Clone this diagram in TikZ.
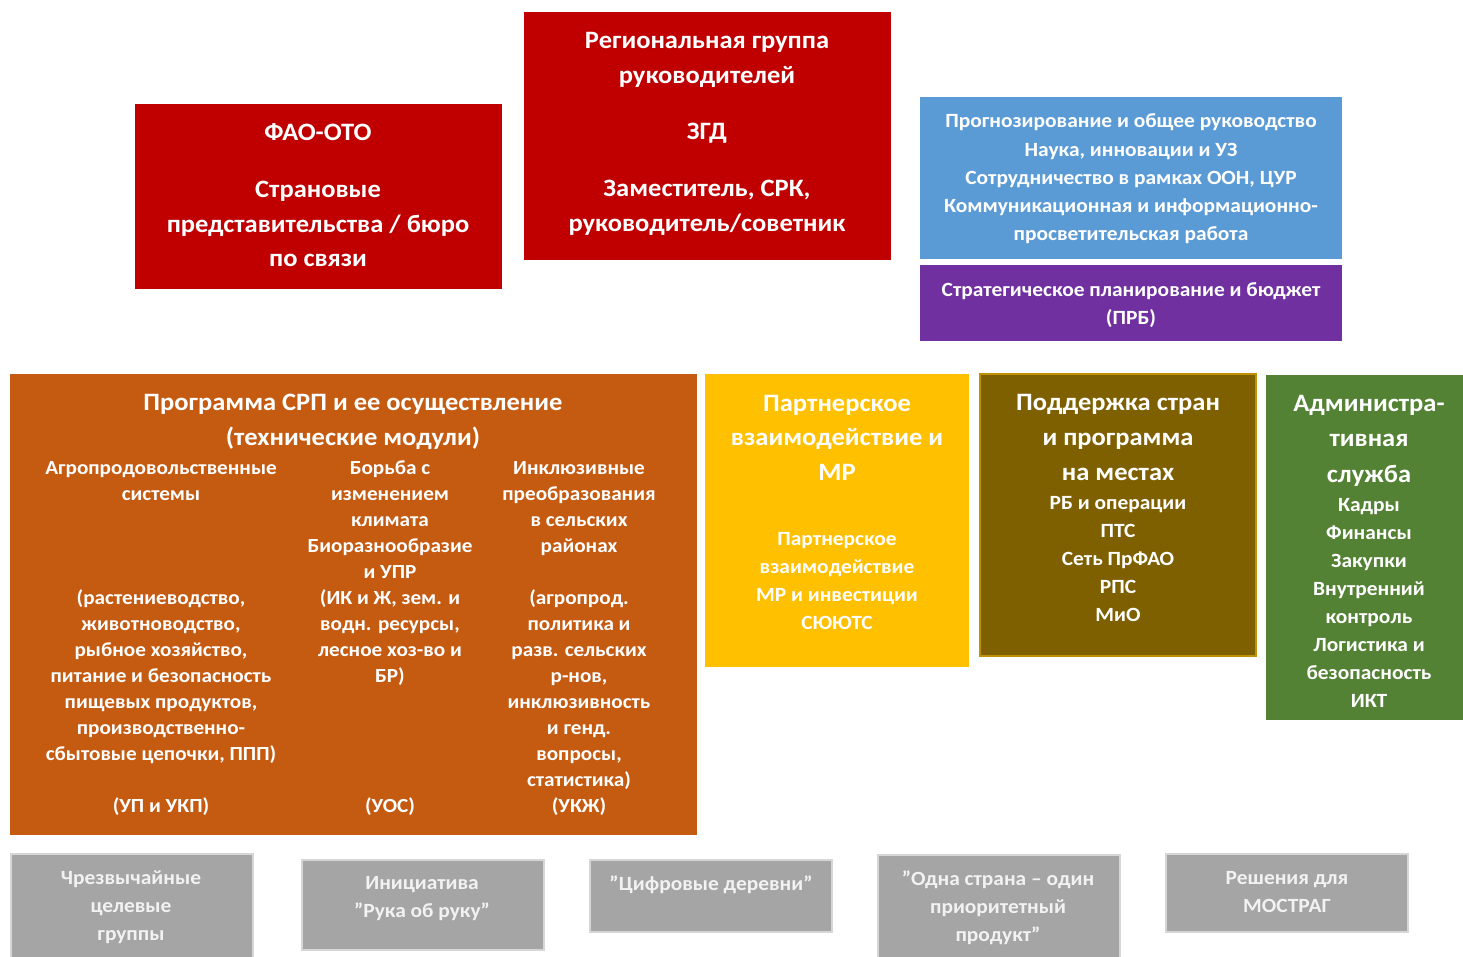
\documentclass[tikz,border=0pt]{standalone}
\usepackage{fontspec}
\setmainfont{Carlito}[FakeStretch=1.06]
\definecolor{cred}{HTML}{C00000}
\definecolor{cblue}{HTML}{5B9BD5}
\definecolor{cpurple}{HTML}{7030A0}
\definecolor{corange}{HTML}{C55A11}
\definecolor{cyellow}{HTML}{FFC000}
\definecolor{cbrown}{HTML}{7F6000}
\definecolor{cbrownb}{HTML}{BF9000}
\definecolor{cgreen}{HTML}{548235}
\definecolor{cgray}{HTML}{A5A5A5}
\definecolor{cgrayb}{HTML}{D6D6D6}
\begin{document}
\begin{tikzpicture}[x=1pt,y=-1pt,
  box/.style={inner sep=0pt, outer sep=0pt, draw=none},
  graybox/.style={box, fill=cgray, draw=cgrayb, line width=1.2pt},
  big/.style={inner sep=0pt, anchor=base, text=white, font=\fontsize{25}{29}\selectfont\bfseries},
  med/.style={inner sep=0pt, anchor=base, text=white, font=\fontsize{20.2}{23}\selectfont\bfseries},
  sml/.style={inner sep=0pt, anchor=base, text=white, font=\fontsize{20}{22}\selectfont\bfseries},
  gtx/.style={med, text=white!95!black}]
\useasboundingbox (0,0) rectangle (1463,956);

% boxes
\node[box, fill=cred, minimum width=367pt, minimum height=185pt] (fao) at (318.5,196.5) {};
\node[box, fill=cred, minimum width=367pt, minimum height=248pt] (rg) at (707.5,136) {};
\node[box, fill=cblue, minimum width=422pt, minimum height=162pt] (blue) at (1131,178) {};
\node[box, fill=cpurple, minimum width=422pt, minimum height=76pt] (prb) at (1131,303) {};
\node[box, fill=corange, minimum width=687pt, minimum height=461pt] (srp) at (353.5,604.5) {};
\node[box, fill=cyellow, minimum width=264pt, minimum height=293pt] (pvm) at (837,520.5) {};
\node[box, fill=cbrown, draw=cbrownb, line width=1.2pt, minimum width=276pt, minimum height=282pt] (pps) at (1118,515) {};
\node[box, fill=cgreen, minimum width=197pt, minimum height=345pt] (adm) at (1364.5,547.5) {};
\node[graybox, minimum width=242pt, minimum height=106pt] (g1) at (132,907) {};
\node[graybox, minimum width=242pt, minimum height=90pt] (g2) at (423,905) {};
\node[graybox, minimum width=242pt, minimum height=72pt] (g3) at (711,896) {};
\node[graybox, minimum width=242pt, minimum height=105pt] (g4) at (999,907.5) {};
\node[graybox, minimum width=242pt, minimum height=78pt] (g5) at (1287,893) {};

% FAO-OTO
\node[big] (fao1) at (318,140) {ФАО-ОТО};
\node[big] (fao2) at (318,197) {Страновые};
\node[big] (fao3) at (318,232) {представительства / бюро};
\node[big] (fao4) at (318,266) {по связи};

% regional group
\node[big] (rg1) at (707,48) {Региональная группа};
\node[big] (rg2) at (707,83) {руководителей};
\node[big] (rg3) at (707,139) {ЗГД};
\node[big] (rg4) at (707,196) {Заместитель, СРК,};
\node[big] (rg5) at (707,231) {руководитель/советник};

% blue
\node[med] (b1) at (1131,127) {Прогнозирование и общее руководство};
\node[med] (b2) at (1131,156) {Наука, инновации и УЗ};
\node[med] (b3) at (1131,184) {Сотрудничество в рамках ООН, ЦУР};
\node[med] (b4) at (1131,212) {Коммуникационная и информационно-};
\node[med] (b5) at (1131,240) {просветительская работа};

% purple
\node[med] (p1) at (1131,296) {Стратегическое планирование и бюджет};
\node[med] (p2) at (1131,324) {(ПРБ)};

% orange
\node[big] (o1) at (353,410) {Программа СРП и ее осуществление};
\node[big] (o2) at (353,445) {(технические модули)};

\node[sml] (a1) at (161,474) {Агропродовольственные};
\node[sml] (a2) at (161,500) {системы};
\node[sml] (a3) at (161,604) {(растениеводство,};
\node[sml] (a4) at (161,630) {животноводство,};
\node[sml] (a5) at (161,656) {рыбное хозяйство,};
\node[sml] (a6) at (161,682) {питание и безопасность};
\node[sml] (a7) at (161,708) {пищевых продуктов,};
\node[sml] (a8) at (161,734) {производственно-};
\node[sml] (a9) at (161,760) {сбытовые цепочки, ППП)};
\node[sml] (a10) at (161,812) {(УП и УКП)};

\node[sml] (k1) at (390,474) {Борьба с};
\node[sml] (k2) at (390,500) {изменением};
\node[sml] (k3) at (390,526) {климата};
\node[sml] (k4) at (390,552) {Биоразнообразие};
\node[sml] (k5) at (390,578) {и УПР};
\node[sml] (k6) at (390,604) {(ИК и Ж, зем. и};
\node[sml] (k7) at (390,630) {водн. ресурсы,};
\node[sml] (k8) at (390,656) {лесное хоз-во и};
\node[sml] (k9) at (390,682) {БР)};
\node[sml] (k10) at (390,812) {(УОС)};

\node[sml] (r1) at (579,474) {Инклюзивные};
\node[sml] (r2) at (579,500) {преобразования};
\node[sml] (r3) at (579,526) {в сельских};
\node[sml] (r4) at (579,552) {районах};
\node[sml] (r5) at (579,604) {(агропрод.};
\node[sml] (r6) at (579,630) {политика и};
\node[sml] (r7) at (579,656) {разв. сельских};
\node[sml] (r8) at (579,682) {р-нов,};
\node[sml] (r9) at (579,708) {инклюзивность};
\node[sml] (r10) at (579,734) {и генд.};
\node[sml] (r11) at (579,760) {вопросы,};
\node[sml] (r12) at (579,786) {статистика)};
\node[sml] (r13) at (579,812) {(УКЖ)};

% yellow
\node[big] (y1) at (837,411) {Партнерское};
\node[big] (y2) at (837,445) {взаимодействие и};
\node[big] (y3) at (837,480) {МР};
\node[med] (y4) at (837,545) {Партнерское};
\node[med] (y5) at (837,573) {взаимодействие};
\node[med] (y6) at (837,601) {МР и инвестиции};
\node[med] (y7) at (837,629) {СЮЮТС};

% brown
\node[big] (s1) at (1118,410) {Поддержка стран};
\node[big] (s2) at (1118,445) {и программа};
\node[big] (s3) at (1118,480) {на местах};
\node[med] (s4) at (1118,509) {РБ и операции};
\node[med] (s5) at (1118,537) {ПТС};
\node[med] (s6) at (1118,565) {Сеть ПрФАО};
\node[med] (s7) at (1118,593) {РПС};
\node[med] (s8) at (1118,621) {МиО};

% green
\node[big] (d1) at (1369,411) {Администра-};
\node[big] (d2) at (1369,446) {тивная};
\node[big] (d3) at (1369,482) {служба};
\node[med] (d4) at (1369,511) {Кадры};
\node[med] (d5) at (1369,539) {Финансы};
\node[med] (d6) at (1369,567) {Закупки};
\node[med] (d7) at (1369,595) {Внутренний};
\node[med] (d8) at (1369,623) {контроль};
\node[med] (d9) at (1369,651) {Логистика и};
\node[med] (d10) at (1369,679) {безопасность};
\node[med] (d11) at (1369,707) {ИКТ};

% gray boxes
\node[gtx] (g1a) at (131,884) {Чрезвычайные};
\node[gtx] (g1b) at (131,912) {целевые};
\node[gtx] (g1c) at (131,940) {группы};
\node[gtx] (g2a) at (422,889) {Инициатива};
\node[gtx] (g2b) at (422,917) {\symbol{34}Рука об руку\symbol{34}};
\node[gtx] (g3a) at (711,890) {\symbol{34}Цифровые деревни\symbol{34}};
\node[gtx] (g4a) at (998,885) {\symbol{34}Одна страна – один};
\node[gtx] (g4b) at (998,913) {приоритетный};
\node[gtx] (g4c) at (998,941) {продукт\symbol{34}};
\node[gtx] (g5a) at (1287,884) {Решения для};
\node[gtx] (g5b) at (1287,912) {МОСТРАГ};
\end{tikzpicture}
\end{document}
